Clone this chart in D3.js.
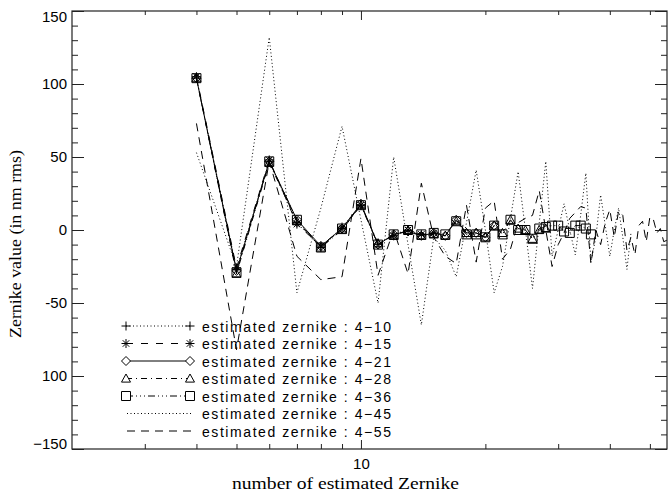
<!DOCTYPE html>
<html>
<head>
<meta charset="utf-8">
<script src="https://cdn.jsdelivr.net/npm/d3@7"></script>
<style>
  body { margin: 0; background: #fff; }
  svg text { fill: #000; }
</style>
</head>
<body>
<svg width="669" height="500"></svg>
<script>
  // Zernike values (nm rms), first value is Zernike #4
  const est4_10 = [104, -27, 47, 5, -12, 2, 17];
  const est4_15 = [105, -26, 48, 4, -11, 1, 17, -10, -4, 0, -3, -2];
  const est4_21 = [104, -28, 47, 7, -11, 1, 18, -10, -3, -1, -4, -2, -4, 7, -2, -2, -5, 3];
  const est4_28 = [104, -30, 46, 6, -12, 0, 17, -9, -4, 0, -4, -3, -4, 6, -2, -2, -5, 3, -2, 7, 1, 0, -6, 0, 1];
  const est4_36 = [104, -29, 47, 7, -12, 1, 17, -10, -3, 0, -3, -2, -3, 6, -3, -3, -5, 3, -3, 7, 0, 0, -6, 1, 2, 3, 3, -1, -2, 3, 3, 1, -3];
  const est4_45 = [53, -25, 132, -43, 15, 71, 7, -50, 50, -10, -65, -5, -14, -32, 5, 41, 0, -43, -25, 8,
                   40, 0, -40, 5, 47, -18, 0, 18, 0, -17, 10, 39, -22, -5, 24, 3, -18, 0, 15, -5, -27, -2];
  const est4_55 = [73, -82, 47, -18, -34, -32, 49, -31, 0, -30, 32, -5, -18, -23, 17, -22, 15, 20, -20, -13,
                   5, 8, 10, 27, 0, -25, -10, -2, 8, 12, 16, 15, -23, 0, -10, 5, 14, -5, 13, 10,
                   -14, -5, -17, 3, 6, -8, 9, 7, -2, 1, -8, -7];

  const legendNames = ["estimated zernike : 4\u221210", "estimated zernike : 4\u221215",
    "estimated zernike : 4\u221221", "estimated zernike : 4\u221228", "estimated zernike : 4\u221236",
    "estimated zernike : 4\u221245", "estimated zernike : 4\u221255"];

  const yTickVals = [-150, -100, -50, 0, 50, 100, 150];
  const yTickLabels = ["\u2212150", "100", "-50", "0", "50", "100", "150"]; // as printed
  const xMinorTicks = [3, 4, 5, 6, 7, 8, 9, 20, 30, 40, 50];
  const xMajorTicks = [10];

  // styles per series
  const styles = [
    { dash: "1,2.5", sym: "plus" },
    { dash: "7,8", sym: "star" },
    { dash: null, sym: "diamond" },
    { dash: "6,4,1,4", sym: "triangle" },
    { dash: "7,3,1,3,1,3,1,3", sym: "square" },
    { dash: "1,2.5", sym: null },
    { dash: "8,6", sym: null }
  ];
  const allSeries = [est4_10, est4_15, est4_21, est4_28, est4_36, est4_45, est4_55];

  const margin = { left: 72, right: 667, top: 11, bottom: 449 };
  const svg = d3.select("svg");

  const x = d3.scaleLog().domain([2, 55]).range([margin.left, margin.right]);
  const y = d3.scaleLinear().domain([-150, 150]).range([margin.bottom, margin.top]);

  // symbol shapes (IDL psym style)
  function symPath(type, r) {
    const d = r * 0.72;
    if (type === "plus") return `M${-r},0H${r}M0,${-r}V${r}`;
    if (type === "star") return `M${-r},0H${r}M0,${-r}V${r}M${-d},${-d}L${d},${d}M${-d},${d}L${d},${-d}`;
    if (type === "diamond") return `M0,${-r}L${r},0L0,${r}L${-r},0Z`;
    if (type === "triangle") return `M0,${-r}L${r},${r * 0.8}L${-r},${r * 0.8}Z`;
    if (type === "square") return `M${-r},${-r}H${r}V${r}H${-r}Z`;
    return "";
  }

  const line = d3.line()
    .x(d => x(d.n))
    .y(d => y(d.v));

  const plot = svg.append("g");

  // draw long series first, short ones on top
  for (let i = allSeries.length - 1; i >= 0; i--) {
    const data = allSeries[i].map((v, k) => ({ n: k + 4, v: v }));
    plot.append("path")
      .datum(data)
      .attr("fill", "none")
      .attr("stroke", "#000")
      .attr("stroke-width", 1)
      .attr("stroke-dasharray", styles[i].dash)
      .attr("d", line);
    if (styles[i].sym) {
      plot.selectAll(".sym" + i)
        .data(data)
        .enter().append("path")
        .attr("class", "sym" + i)
        .attr("transform", d => `translate(${x(d.n)},${y(d.v)})`)
        .attr("d", symPath(styles[i].sym, 4.5))
        .attr("fill", "none")
        .attr("stroke", "#000")
        .attr("stroke-width", 1);
    }
  }

  // frame
  svg.append("rect")
    .attr("x", margin.left).attr("y", margin.top)
    .attr("width", margin.right - margin.left)
    .attr("height", margin.bottom - margin.top)
    .attr("fill", "none").attr("stroke", "#222").attr("stroke-width", 1.2);

  const yMinor = d3.range(-150, 151, 10).filter(v => v % 50 !== 0);

  // left axis
  const left = svg.append("g").attr("transform", `translate(${margin.left},0)`)
    .call(d3.axisLeft(y).tickValues(yTickVals).tickSize(-12).tickSizeOuter(0).tickPadding(5)
      .tickFormat((d, i) => yTickLabels[i]));
  left.select(".domain").remove();
  left.selectAll("text")
    .attr("font-family", "Liberation Sans, Arial, sans-serif").attr("font-size", 15)
    .attr("y", function (d) { const p = y(d); return Math.min(Math.max(p, 17), 444) - p; });
  svg.append("g").attr("transform", `translate(${margin.left},0)`)
    .call(d3.axisLeft(y).tickValues(yMinor).tickSize(-6).tickFormat(""))
    .select(".domain").remove();

  // right axis
  svg.append("g").attr("transform", `translate(${margin.right},0)`)
    .call(d3.axisRight(y).tickValues(yTickVals).tickSize(-12).tickFormat(""))
    .select(".domain").remove();
  svg.append("g").attr("transform", `translate(${margin.right},0)`)
    .call(d3.axisRight(y).tickValues(yMinor).tickSize(-6).tickFormat(""))
    .select(".domain").remove();

  // bottom axis
  const bottom = svg.append("g").attr("transform", `translate(0,${margin.bottom})`)
    .call(d3.axisBottom(x).tickValues(xMajorTicks).tickSize(-9).tickSizeOuter(0).tickPadding(9)
      .tickFormat(d3.format("d")));
  bottom.select(".domain").remove();
  bottom.selectAll("text").attr("font-family", "Liberation Sans, Arial, sans-serif").attr("font-size", 15);
  svg.append("g").attr("transform", `translate(0,${margin.bottom})`)
    .call(d3.axisBottom(x).tickValues(xMinorTicks).tickSize(-5).tickFormat(""))
    .select(".domain").remove();

  // top axis
  svg.append("g").attr("transform", `translate(0,${margin.top})`)
    .call(d3.axisTop(x).tickValues(xMajorTicks).tickSize(-9).tickFormat(""))
    .select(".domain").remove();
  svg.append("g").attr("transform", `translate(0,${margin.top})`)
    .call(d3.axisTop(x).tickValues(xMinorTicks).tickSize(-4).tickFormat(""))
    .select(".domain").remove();

  svg.selectAll(".tick line").attr("stroke", "#222");

  // axis titles
  svg.append("text")
    .attr("x", 232).attr("y", 489)
    .attr("font-family", "Liberation Serif, Times New Roman, serif").attr("font-size", 16)
    .attr("textLength", 227).attr("lengthAdjust", "spacingAndGlyphs")
    .text("number of estimated Zernike");

  svg.append("text")
    .attr("transform", "translate(21,338) rotate(-90)")
    .attr("font-family", "Liberation Serif, Times New Roman, serif").attr("font-size", 17)
    .attr("textLength", 188).attr("lengthAdjust", "spacingAndGlyphs")
    .text("Zernike value (in nm rms)");

  // legend
  const legend = svg.append("g");
  legendNames.forEach((name, i) => {
    const ly = 326 + i * 17.5;
    const st = styles[i];
    const x0 = st.sym ? 126 : 127, x1 = st.sym ? 190 : 192;
    legend.append("line")
      .attr("x1", x0).attr("x2", x1).attr("y1", ly).attr("y2", ly)
      .attr("stroke", "#000").attr("stroke-width", 1)
      .attr("stroke-dasharray", st.dash);
    if (st.sym) {
      [x0, x1].forEach(px => {
        legend.append("path")
          .attr("transform", `translate(${px},${ly})`)
          .attr("d", symPath(st.sym, 4.5))
          .attr("fill", "#fff").attr("stroke", "#000").attr("stroke-width", 1);
      });
    }
    legend.append("text")
      .attr("x", 202).attr("y", ly + 5.5)
      .attr("font-family", "Liberation Sans, Arial, sans-serif").attr("font-size", 14)
      .attr("textLength", 189).attr("lengthAdjust", "spacing")
      .text(name);
  });
</script>
</body>
</html>
